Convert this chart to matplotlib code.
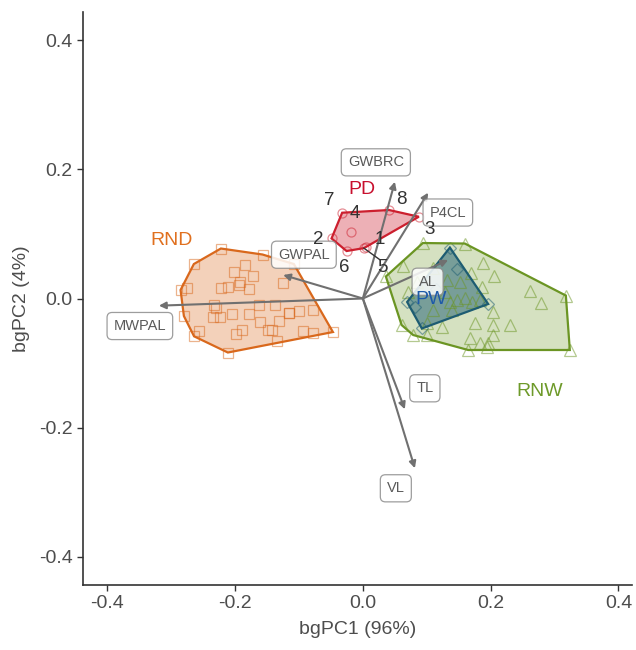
import numpy as np
import matplotlib
matplotlib.use("Agg")
from matplotlib import pyplot as plt
from matplotlib.patches import Polygon, FancyArrowPatch

plt.rcParams['font.family'] = ['Liberation Sans', 'DejaVu Sans']

# scores per group (bgPC1, bgPC2)
rnd_x = [-0.2222, -0.1570, -0.2645, -0.1847, -0.2019, -0.1726, -0.1925, -0.1941, -0.2113, -0.2222,
         -0.1784, -0.2853, -0.2759, -0.1247, -0.2324, -0.2300, -0.1628, -0.1377, -0.2801, -0.2347,
         -0.2238, -0.2050, -0.1784, -0.1612, -0.1315, -0.1150, -0.1158, -0.0994, -0.0787, -0.2570,
         -0.2642, -0.1992, -0.1886, -0.1487, -0.1416, -0.0934, -0.0787, -0.0469, -0.1346, -0.2113,
         -0.1080]
rnd_y = [0.0774, 0.0681, 0.0534, 0.0519, 0.0410, 0.0353, 0.0263, 0.0209, 0.0178, 0.0163,
         0.0147, 0.0132, 0.0167, 0.0235, -0.0093, -0.0152, -0.0101, -0.0108, -0.0271, -0.0282,
         -0.0282, -0.0240, -0.0240, -0.0359, -0.0341, -0.0217, -0.0232, -0.0189, -0.0178, -0.0500,
         -0.0585, -0.0550, -0.0492, -0.0488, -0.0495, -0.0503, -0.0539, -0.0519, -0.0650, -0.0836,
         0.0534]

pd_x = [0.0047, -0.0490, 0.0876, -0.0190, 0.0016, -0.0255, -0.0324, 0.0410]
pd_y = [0.0805, 0.0930, 0.1266, 0.1030, 0.0780, 0.0735, 0.1328, 0.1370]
pd_ids = ['1', '2', '3', '4', '5', '6', '7', '8']
pd_id_x = [0.0266, -0.0700, 0.1049, -0.0125, 0.0302, -0.0297, -0.0532, 0.0606]
pd_id_y = [0.0916, 0.0916, 0.1076, 0.1319, 0.0483, 0.0483, 0.1525, 0.1540]

pw_x = [0.1362, 0.1471, 0.1961, 0.0923, 0.0693, 0.0814, 0.1150]
pw_y = [0.0789, 0.0457, -0.0085, -0.0464, -0.0054, -0.0124, 0.0150]

rnw_x = [0.0939, 0.1596, 0.0360, 0.0626, 0.1095, 0.1698, 0.1883, 0.2050, 0.1518, 0.1315,
         0.1862, 0.2613, 0.3177, 0.2781, 0.1362, 0.1466, 0.1596, 0.1701, 0.1831, 0.1388,
         0.1095, 0.2039, 0.1753, 0.1232, 0.0787, 0.0997, 0.0606, 0.1674, 0.1831, 0.2039,
         0.2300, 0.2039, 0.1961, 0.1945, 0.3239, 0.1648, 0.0840, 0.0709, 0.1002, 0.1283]
rnw_y = [0.0859, 0.0851, 0.0341, 0.0503, 0.0472, 0.0402, 0.0545, 0.0356, 0.0263, 0.0286,
         0.0178, 0.0116, 0.0046, -0.0074, -0.0050, -0.0023, 0.0003, -0.0050, -0.0023, -0.0178,
         -0.0178, -0.0204, -0.0384, -0.0437, -0.0565, -0.0565, -0.0410, -0.0616, -0.0693, -0.0410,
         -0.0410, -0.0565, -0.0693, -0.0746, -0.0797, -0.0797, 0.0260, 0.0105, -0.0379, 0.0101]

# variable loadings (arrow tips) and their label positions
var_names = ['GWBRC', 'P4CL', 'GWPAL', 'MWPAL', 'AL', 'TL', 'VL']
var_x = [0.0501, 0.1022, -0.1247, -0.3192, 0.1335, 0.0657, 0.0814]
var_y = [0.1808, 0.1638, 0.0364, -0.0111, 0.0596, -0.1715, -0.2628]
var_lab_x = [0.0203, 0.1330, -0.0923, -0.3490, 0.1013, 0.0970, 0.0516]
var_lab_y = [0.2108, 0.1331, 0.0678, -0.0426, 0.0260, -0.1390, -0.2938]

groups = ['RND', 'PD', 'RNW', 'PW']
group_lab_x = [-0.2994, -0.0020, 0.2770, 0.1075]
group_lab_y = [0.0895, 0.1695, -0.1432, -0.0023]


def hull(xs, ys):
    pts = sorted(set(zip(xs, ys)))
    def cross(o, a, b):
        return (a[0] - o[0]) * (b[1] - o[1]) - (a[1] - o[1]) * (b[0] - o[0])
    lower, upper = [], []
    for p in pts:
        while len(lower) >= 2 and cross(lower[-2], lower[-1], p) <= 0:
            lower.pop()
        lower.append(p)
    for p in reversed(pts):
        while len(upper) >= 2 and cross(upper[-2], upper[-1], p) <= 0:
            upper.pop()
        upper.append(p)
    return np.array(lower[:-1] + upper[:-1])


fig = plt.figure(figsize=(6.36, 6.5), dpi=100)
ax = fig.add_axes([0.1305, 0.10, 0.863, 0.8815])

styles = {
    'RND': dict(data=(rnd_x, rnd_y), line='#D9681C', text='#E0701F', marker='s', ms=6.5, alpha=0.3),
    'PD': dict(data=(pd_x, pd_y), line='#CC1F2E', text='#C8102E', marker='o', ms=6.5, alpha=0.35),
    'RNW': dict(data=(rnw_x, rnw_y), line='#6B9523', text='#6E9A2A', marker='^', ms=8, alpha=0.28),
    'PW': dict(data=(pw_x, pw_y), line='#1D5C72', text='#1E5AA8', marker='D', ms=6, alpha=0.5),
}

for g in groups:
    st = styles[g]
    xs, ys = st['data']
    h = hull(xs, ys)
    ax.add_patch(Polygon(h, closed=True, facecolor=st['line'], alpha=st['alpha'],
                         edgecolor='none', zorder=2))
    ax.add_patch(Polygon(h, closed=True, facecolor='none', edgecolor=st['line'],
                         lw=1.6, zorder=3))
    ax.plot(xs, ys, linestyle='none', marker=st['marker'], ms=st['ms'], mfc='none',
            mec=st['line'], mew=0.9, alpha=0.5, zorder=2.5)

# loadings
for vx, vy in zip(var_x, var_y):
    ax.add_patch(FancyArrowPatch((0, 0), (vx, vy), arrowstyle='-|>', mutation_scale=10,
                                 color='#707070', lw=1.5, shrinkA=0, shrinkB=0, zorder=4))

for name, lx, ly in zip(var_names, var_lab_x, var_lab_y):
    ax.text(lx, ly, name, ha='center', va='center', fontsize=10.5, color='#5A5A5A', zorder=6,
            bbox=dict(boxstyle='round,pad=0.45,rounding_size=0.35', fc='white', ec='#8C8C8C',
                      lw=0.9, alpha=0.85))

for g, gx, gy in zip(groups, group_lab_x, group_lab_y):
    ax.text(gx, gy, g, ha='center', va='center', fontsize=14, color=styles[g]['text'], zorder=7)

# PD specimen numbers
ax.plot([pd_x[4], pd_id_x[4] - 0.004], [pd_y[4], pd_id_y[4] + 0.012], color='#333333',
        lw=1.0, zorder=5)
for t, tx, ty in zip(pd_ids, pd_id_x, pd_id_y):
    ax.text(tx, ty, t, ha='center', va='center', fontsize=13.5, color='#333333', zorder=7)

ax.set_xlim(-0.438, 0.421)
ax.set_ylim(-0.4435, 0.4435)
ticks = [-0.4, -0.2, 0.0, 0.2, 0.4]
ax.set_xticks(ticks)
ax.set_yticks(ticks)
ax.set_xticklabels(['-0.4', '-0.2', '0.0', '0.2', '0.4'])
ax.set_yticklabels(['-0.4', '-0.2', '0.0', '0.2', '0.4'])
ax.tick_params(labelsize=14, labelcolor='#4D4D4D', color='#333333', length=4, width=1)
for s in ['top', 'right']:
    ax.spines[s].set_visible(False)
for s in ['left', 'bottom']:
    ax.spines[s].set_color('#333333')
    ax.spines[s].set_linewidth(1.2)
ax.set_xlabel('bgPC1 (96%)', fontsize=14, color='#4D4D4D', labelpad=6)
ax.set_ylabel('bgPC2 (4%)', fontsize=14, color='#4D4D4D', labelpad=6)

fig.savefig('out.png', dpi=100)
